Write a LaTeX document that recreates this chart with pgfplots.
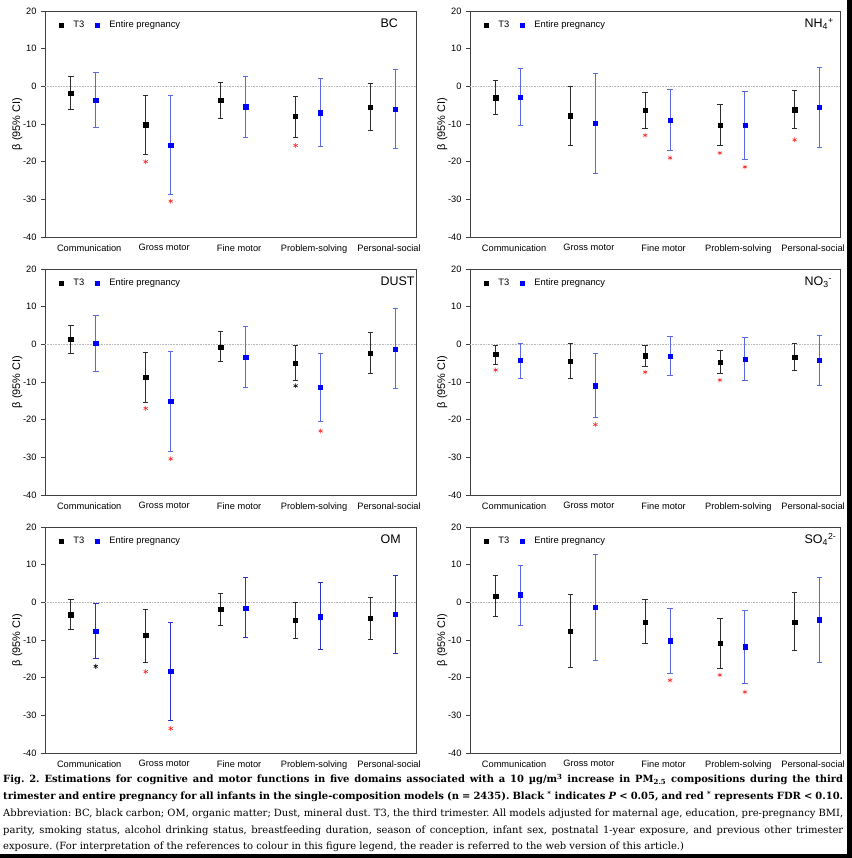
\documentclass[border=0pt]{standalone}
\usepackage{fontspec}
\setmainfont{Liberation Sans}
\newfontfamily\capfont{DejaVu Serif}
\usepackage{pgfplots}
\pgfplotsset{compat=1.18}
\usepackage{pgfplotstable}

\definecolor{epblue}{RGB}{0,0,255}
\definecolor{epbar}{RGB}{90,105,228}
\definecolor{epbardark}{RGB}{40,50,200}
\definecolor{t3bar}{RGB}{45,45,45}
\definecolor{starred}{RGB}{255,40,40}

% c: category; t3, t3lo, t3hi: T3 estimate and 95% CI; ep, eplo, ephi: entire pregnancy
\pgfplotstableread{
c t3 t3lo t3hi ep eplo ephi
1 -1.8 -6.2 2.7 -3.6 -11.0 3.8
2 -10.2 -18.0 -2.4 -15.6 -28.7 -2.5
3 -3.6 -8.4 1.1 -5.4 -13.5 2.6
4 -8.0 -13.5 -2.6 -7.0 -16.0 2.0
5 -5.5 -11.8 0.8 -6.0 -16.4 4.5
}\tabBC
\pgfplotstableread{
c t3 t3lo t3hi ep eplo ephi
1 -3.0 -7.5 1.5 -2.8 -10.3 4.7
2 -7.8 -15.7 0.1 -9.8 -23.1 3.5
3 -6.3 -11.1 -1.5 -8.9 -17.0 -0.7
4 -10.3 -15.7 -4.9 -10.4 -19.4 -1.3
5 -6.2 -11.2 -1.0 -5.6 -16.1 5.0
}\tabNH
\pgfplotstableread{
c t3 t3lo t3hi ep eplo ephi
1 1.3 -2.5 5.0 0.2 -7.3 7.6
2 -8.7 -15.3 -2.2 -15.1 -28.4 -1.9
3 -0.7 -4.6 3.5 -3.4 -11.5 4.7
4 -5.0 -9.5 -0.4 -11.4 -20.5 -2.3
5 -2.3 -7.6 3.1 -1.2 -11.6 9.5
}\tabDUST
\pgfplotstableread{
c t3 t3lo t3hi ep eplo ephi
1 -2.7 -5.3 -0.2 -4.3 -9.0 0.3
2 -4.4 -9.0 0.2 -11.0 -19.4 -2.5
3 -3.0 -5.8 -0.3 -3.2 -8.3 2.0
4 -4.7 -7.8 -1.6 -3.9 -9.7 1.8
5 -3.4 -7.0 0.2 -4.3 -11.0 2.3
}\tabNO
\pgfplotstableread{
c t3 t3lo t3hi ep eplo ephi
1 -3.3 -7.2 0.7 -7.7 -14.9 -0.3
2 -8.8 -15.9 -1.9 -18.3 -31.3 -5.4
3 -1.9 -6.2 2.4 -1.5 -9.4 6.6
4 -4.7 -9.6 0.1 -3.8 -12.6 5.2
5 -4.3 -9.8 1.3 -3.2 -13.6 7.1
}\tabOM
\pgfplotstableread{
c t3 t3lo t3hi ep eplo ephi
1 1.6 -3.8 7.1 2.0 -6.0 9.9
2 -7.6 -17.2 2.1 -1.2 -15.3 12.8
3 -5.2 -11.0 0.8 -10.2 -18.8 -1.5
4 -10.9 -17.5 -4.2 -11.8 -21.5 -2.1
5 -5.2 -12.7 2.6 -4.6 -15.9 6.6
}\tabSO

\pgfplotsset{
  panel/.style={
    scale only axis, width=371bp, height=226bp,
    anchor=south west,
    xmin=0.49, xmax=5.44, ymin=-40, ymax=20,
    enlargelimits=false,
    ytick={-40,-30,-20,-10,0,10,20},
    xtick={1.08,2.08,3.08,4.08,5.08},
    xticklabels={Communication,Gross motor,Fine motor,Problem-solving,Personal-social},
    /pgf/number format/assume math mode=true,
    tick label style={font=\fontsize{9.3}{10}\selectfont},
    y tick label style={xshift=-1bp},
    ytick pos=left,
    xtick style={draw=none},
    ytick style={black!75, line width=0.7bp},
    tick align=outside, major tick length=4bp,
    axis line style={black!75, line width=0.7bp},
    ylabel={β (95\% CI)},
    ylabel style={font=\fontsize{11}{12}\selectfont, at={(axis description cs:-0.075,0.5)}, anchor=center},
    legend style={at={(axis description cs:0.033,0.966)}, anchor=north west, draw=none, fill=none,
      font=\fontsize{9.4}{10}\selectfont, legend columns=2, inner sep=0pt,
      /tikz/every even column/.append style={column sep=7bp}},
    legend cell align=left,
    legend image code/.code={\draw[#1] plot coordinates {(4bp,0bp)};\path[draw=none,fill=none] (0bp,0bp) -- (14bp,0bp);},
  },
  t3style/.style={only marks, mark=square*, mark size=2.1bp, black,
    error bars/.cd, y dir=both, y explicit,
    error bar style={line width=0.75bp, t3bar},
    error mark options={rotate=90, mark size=2.8bp, line width=0.75bp, t3bar}},
  epstyle/.style={only marks, mark=square*, mark size=2.1bp, color=epblue,
    error bars/.cd, y dir=both, y explicit,
    error bar style={line width=0.75bp, #1},
    error mark options={rotate=90, mark size=2.8bp, line width=0.75bp, #1}},
  epstyle/.default=epbar,
  redstar/.style={only marks, mark=asterisk, mark size=2.4bp, starred, line width=0.6bp, forget plot},
  blackstar/.style={only marks, mark=asterisk, mark size=2.4bp, black, line width=0.6bp, forget plot},
}

\newcommand{\mainplots}[2]{%
  \addplot[forget plot, gray!55, densely dotted, line width=0.6bp] coordinates {(0.49,0) (5.44,0)};
  \addplot[t3style] table[x expr=\thisrow{c}-0.1667, y=t3,
    y error plus expr=\thisrow{t3hi}-\thisrow{t3},
    y error minus expr=\thisrow{t3}-\thisrow{t3lo}] {#1};
  \addlegendentry{T3}
  \addplot[epstyle=#2] table[x expr=\thisrow{c}+0.1667, y=ep,
    y error plus expr=\thisrow{ephi}-\thisrow{ep},
    y error minus expr=\thisrow{ep}-\thisrow{eplo}] {#1};
  \addlegendentry{Entire pregnancy}
}
\newcommand{\plabel}[1]{\node[anchor=base west, font=\fontsize{12.5}{13}\selectfont] at (rel axis cs:0.895,0.925) {#1};}

\begin{document}
\begin{tikzpicture}[x=1bp,y=1bp]
\useasboundingbox (0,0) rectangle (852,858);
\fill[white] (0,0) rectangle (852,858);

% BC
\begin{axis}[panel, at={(45bp,621bp)}]
  \mainplots{\tabBC}{epbar}
  \addplot[redstar] coordinates {(1.833,-20) (2.167,-30.5) (3.833,-15.7)};
  \plabel{BC}
\end{axis}

% NH4+
\begin{axis}[panel, width=370bp, at={(470bp,621bp)}]
  \mainplots{\tabNH}{epbar}
  \addplot[redstar] coordinates {(2.833,-13) (3.167,-19) (3.833,-17.7) (4.167,-21.4) (4.833,-14.2)};
  \plabel{NH\textsubscript{4}\textsuperscript{+}}
\end{axis}

% DUST
\begin{axis}[panel, at={(45bp,363bp)}]
  \mainplots{\tabDUST}{epbar}
  \addplot[redstar] coordinates {(1.833,-17) (2.167,-30.4) (4.167,-23)};
  \addplot[blackstar] coordinates {(3.833,-11)};
  \plabel{DUST}
\end{axis}

% NO3-
\begin{axis}[panel, width=370bp, at={(470bp,363bp)}]
  \mainplots{\tabNO}{epbar}
  \addplot[redstar] coordinates {(0.833,-6.8) (2.167,-21.3) (2.833,-7.4) (3.833,-9.5)};
  \plabel{NO\textsubscript{3}\textsuperscript{-}}
\end{axis}

% OM
\begin{axis}[panel, at={(45bp,105bp)}]
  \mainplots{\tabOM}{epbardark}
  \addplot[redstar] coordinates {(1.833,-18.4) (2.167,-33.5)};
  \addplot[blackstar] coordinates {(1.167,-17)};
  \plabel{OM}
\end{axis}

% SO4 2-
\begin{axis}[panel, width=370bp, at={(470bp,105bp)}]
  \mainplots{\tabSO}{epbar}
  \addplot[redstar] coordinates {(3.167,-20.7) (3.833,-19.3) (4.167,-23.8)};
  \plabel{SO\textsubscript{4}\textsuperscript{2-}}
\end{axis}

\node[anchor=base west, text width=840bp, inner sep=0pt, align=justify,
      font=\capfont\fontsize{10}{16.8}\selectfont\frenchspacing] at (3,75) {%
\textbf{Fig. 2. Estimations for cognitive and motor functions in five domains associated with a 10 µg/m\textsuperscript{3} increase in PM\textsubscript{2.5} compositions during the third}\linebreak
\textbf{trimester and entire pregnancy for all infants in the single-composition models (n = 2435). Black \textsuperscript{*} indicates \textit{P} < 0.05, and red \textsuperscript{*} represents FDR < 0.10.}\linebreak
Abbreviation: BC, black carbon; OM, organic matter; Dust, mineral dust. T3, the third trimester. All models adjusted for maternal age, education, pre-pregnancy BMI,\linebreak
parity, smoking status, alcohol drinking status, breastfeeding duration, season of conception, infant sex, postnatal 1-year exposure, and previous other trimester\linebreak
exposure. (For interpretation of the references to colour in this figure legend, the reader is referred to the web version of this article.)};

\fill[black] (0,0) rectangle (852,4);
\fill[black] (847,0) rectangle (852,858);
\end{tikzpicture}
\end{document}
